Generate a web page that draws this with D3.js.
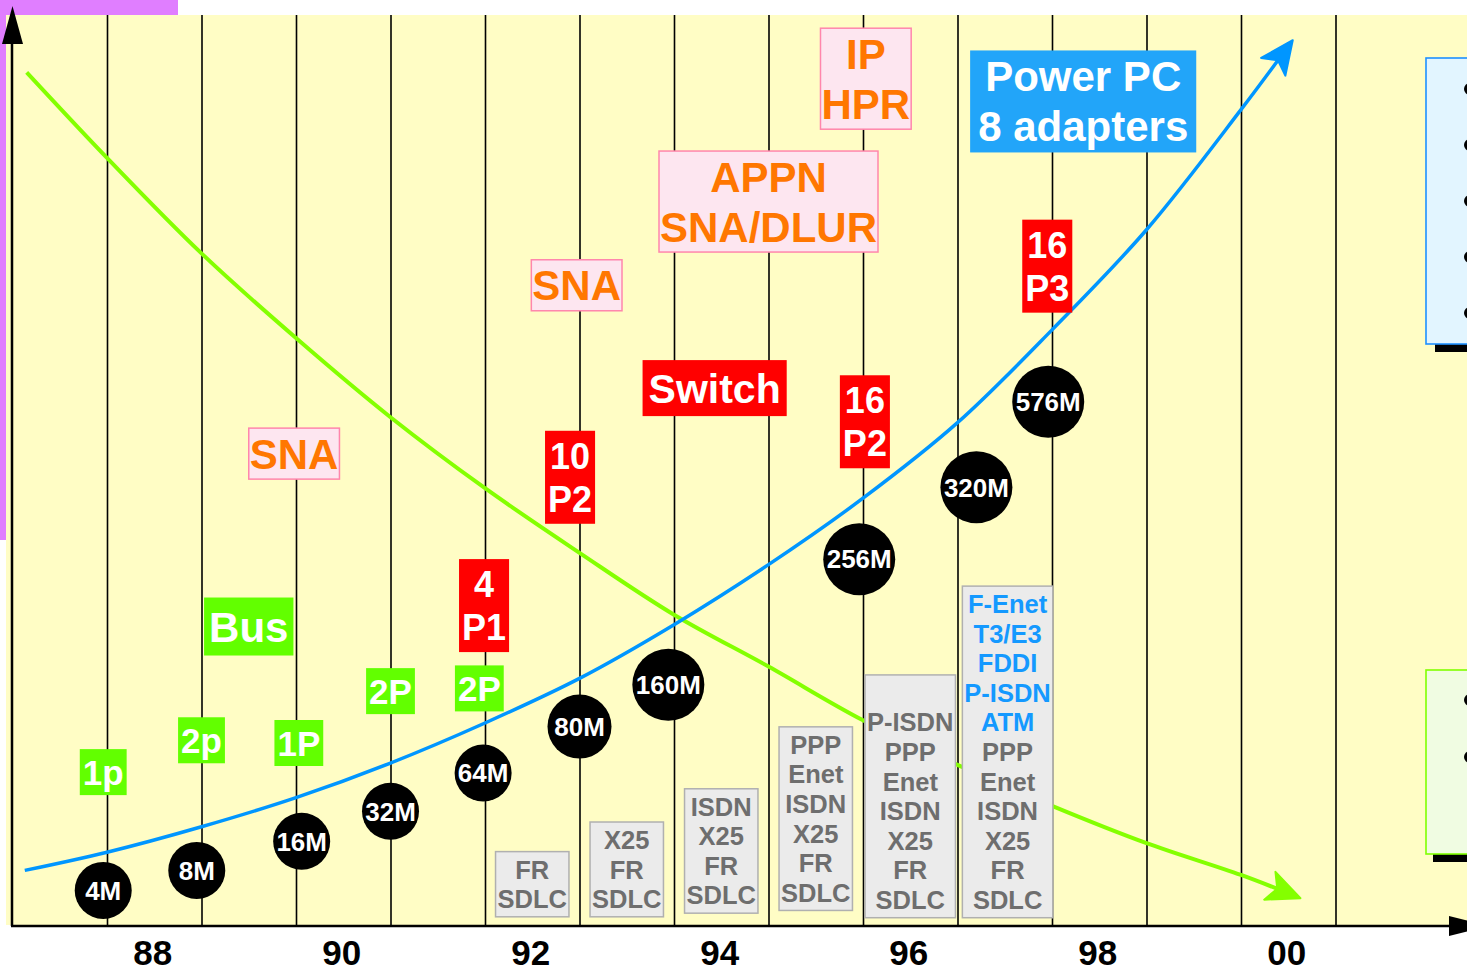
<!DOCTYPE html>
<html lang="en">
<head>
<meta charset="utf-8" />
<title>Memory, adapters and protocols 88-00</title>
<script src="https://d3js.org/d3.v7.min.js"></script>
<style>
  body { margin: 0; background: #fff; }
  svg text { font-family: "Liberation Sans", Arial, sans-serif; font-weight: bold; }
</style>
</head>
<body>
<script>
// ---------- data ----------
// year labels on the bottom axis, and the half-year grid lines
var yearTicks = [88, 90, 92, 94, 96, 98, 100];
var gridYears = [87.5, 88.5, 89.5, 90.5, 91.5, 92.5, 93.5, 94.5, 95.5, 96.5, 97.5, 98.5, 99.5, 100.5];

// memory (black circles)
var memLabels = ["4M", "8M", "16M", "32M", "64M", "80M", "160M", "256M", "320M", "576M"];
var memMB     = [4, 8, 16, 32, 64, 80, 160, 256, 320, 576];
var memYears  = [87.46, 88.45, 89.56, 90.5, 91.48, 92.5, 93.44, 95.46, 96.7, 97.46];
var memLevels = [3.8, 6.0, 9.2, 12.5, 16.7, 21.8, 26.4, 40.2, 48.1, 57.5];

// rising curve (blue) and falling curve (green)
var riseYears  = [86.63, 87.5, 88.5, 89.5, 90.5, 91.5, 92.5, 93.5, 94.5, 95.5, 96.5, 97.5, 98.5, 99.5, 100.01];
var riseLevels = [6.0, 8.0, 10.8, 14.0, 17.8, 22.2, 27.1, 33.0, 39.6, 46.9, 55.2, 65.4, 76.4, 89.6, 96.7];
var fallYears  = [86.65, 87.5, 88.5, 89.5, 90.5, 91.5, 92.5, 93.5, 94.5, 95.5, 96.5, 97.5, 98.5, 99.5, 100.07];
var fallLevels = [93.7, 84.3, 73.8, 64.5, 55.8, 48.0, 40.9, 34.1, 28.4, 22.5, 17.6, 13.1, 9.0, 5.5, 3.2];

// slots (green)
var slotLabels = [["1p"], ["2p"], ["1P"], ["2P"], ["2P"], ["Bus"]];
var slotYears  = [87.46, 88.5, 89.53, 90.5, 91.44, 89.0];
var slotLevels = [16.8, 20.3, 20.0, 25.7, 26.0, 32.8];

// processors (red)
var cpuLabels = [["4", "P1"], ["10", "P2"], ["Switch"], ["16", "P2"], ["16", "P3"]];
var cpuYears  = [91.49, 92.4, 93.93, 95.52, 97.45];
var cpuLevels = [35.1, 49.2, 59.0, 55.3, 72.4];

// architecture (pink)
var archLabels = [["SNA"], ["SNA"], ["APPN", "SNA/DLUR"], ["IP", "HPR"]];
var archYears  = [89.48, 92.47, 94.5, 95.53];
var archLevels = [51.8, 70.3, 79.5, 93.0];

// power pc (blue)
var ppcLabels = [["Power PC", "8 adapters"]];
var ppcYears  = [97.83];
var ppcLevels = [90.5];

// link protocols (grey), the first linkNew lines are shown in blue
var linkYears = [92, 93, 94, 95, 96, 97.03];
var linkBase  = [0.9, 0.9, 1.3, 1.6, 0.8, 0.8];
var linkNew   = [0, 0, 0, 0, 0, 5];
var linkLines = [
  ["FR", "SDLC"],
  ["X25", "FR", "SDLC"],
  ["ISDN", "X25", "FR", "SDLC"],
  ["PPP", "Enet", "ISDN", "X25", "FR", "SDLC"],
  ["", "P-ISDN", "PPP", "Enet", "ISDN", "X25", "FR", "SDLC"],
  ["F-Enet", "T3/E3", "FDDI", "P-ISDN", "ATM", "PPP", "Enet", "ISDN", "X25", "FR", "SDLC"]
];

// ---------- drawing ----------
var width = 1467, height = 972;
var svg = d3.select("body").append("svg")
    .attr("width", width)
    .attr("height", height);

var x = d3.scaleLinear().domain([87.5, 100.5]).range([107, 1335.5]);
var y = d3.scaleLinear().domain([0, 100]).range([925, 15]);
var rScale = d3.scaleThreshold().domain([80, 160]).range([28.5, 32, 36]);

// background
svg.append("rect").attr("x", 0).attr("y", 0).attr("width", 178).attr("height", 15).attr("fill", "#e07eff");
svg.append("rect").attr("x", 0).attr("y", 0).attr("width", 6).attr("height", 540).attr("fill", "#e07eff");
svg.append("rect").attr("x", 6).attr("y", y(100)).attr("width", width - 6).attr("height", y(0) - y(100))
    .attr("fill", "#fffdc5");

// grid lines
var grid = svg.append("g")
    .attr("transform", "translate(0," + y(0) + ")")
    .call(d3.axisBottom(x).tickValues(gridYears).tickSize(-(y(0) - y(100))).tickFormat(""));
grid.select(".domain").remove();
grid.selectAll("line").attr("stroke", "#000").attr("stroke-width", 1.6);

// right-hand panels (cut off at the edge)
function panel(top, bottom, stroke, fill, shadowX, bullets) {
  svg.append("rect").attr("x", shadowX).attr("y", bottom).attr("width", 60).attr("height", 8).attr("fill", "#000");
  svg.append("rect").attr("x", 1426).attr("y", top).attr("width", 60).attr("height", bottom - top)
      .attr("fill", fill).attr("stroke", stroke).attr("stroke-width", 1.6);
  bullets.forEach(function (b) {
    svg.append("circle").attr("cx", 1470).attr("cy", b).attr("r", 6).attr("fill", "#000");
  });
}
panel(58, 344, "#1e90ff", "#e2f5ff", 1435, [89, 145, 201, 257, 313]);
panel(670, 854, "#80ff00", "#f0fce2", 1433, [700, 757]);

// curves
var defs = svg.append("defs");
function arrow(id, color) {
  defs.append("marker")
      .attr("id", id)
      .attr("markerUnits", "userSpaceOnUse")
      .attr("viewBox", "-34 -20 44 40")
      .attr("markerWidth", 44).attr("markerHeight", 40)
      .attr("refX", 0).attr("refY", 0)
      .attr("orient", "auto")
      .append("path")
      .attr("d", "M6,0 L-27,-15 L-19,0 L-27,15 Z")
      .attr("fill", color).attr("stroke", color).attr("stroke-width", 2).attr("stroke-linejoin", "round");
}
arrow("arrowBlue", "#0096ff");
arrow("arrowGreen", "#84ff00");

var line = d3.line()
    .x(function (d) { return x(d[0]); })
    .y(function (d) { return y(d[1]); })
    .curve(d3.curveCatmullRom.alpha(0.5));

svg.append("path").datum(d3.zip(fallYears, fallLevels))
    .attr("d", line).attr("fill", "none").attr("stroke", "#84ff00").attr("stroke-width", 4)
    .attr("marker-end", "url(#arrowGreen)");
svg.append("path").datum(d3.zip(riseYears, riseLevels))
    .attr("d", line).attr("fill", "none").attr("stroke", "#0096ff").attr("stroke-width", 3.5)
    .attr("marker-end", "url(#arrowBlue)");

// labelled boxes
var styles = {
  slot:   { fs: 35, lh: 40, px: 3, py: 3, fill: "#62ff00", stroke: "none", text: "#fff" },
  bus:    { fs: 42, lh: 50, px: 5, py: 4, fill: "#62ff00", stroke: "none", text: "#fff" },
  cpu:    { fs: 36, lh: 43, px: 3, py: 3.5, fill: "#ff0000", stroke: "none", text: "#fff" },
  cpuWide:{ fs: 41, lh: 50, px: 6, py: 3, fill: "#ff0000", stroke: "none", text: "#fff" },
  arch:   { fs: 42, lh: 50, px: 1, py: 0.5, fill: "#fde6f0", stroke: "#ff86ac", text: "#ff7700" },
  ppc:    { fs: 42, lh: 50, px: 8, py: 1, fill: "#22a5f9", stroke: "none", text: "#fff" }
};

function boxes(labels, years, levels, pickStyle) {
  labels.forEach(function (lines, i) {
    var st = pickStyle(lines);
    var g = svg.append("g").attr("transform", "translate(" + x(years[i]) + "," + y(levels[i]) + ")");
    var rect = g.append("rect");
    var w = 0;
    lines.forEach(function (t, j) {
      var cy = (j - (lines.length - 1) / 2) * st.lh;
      var tx = g.append("text")
          .attr("x", 0).attr("y", cy + 0.358 * st.fs)
          .attr("text-anchor", "middle")
          .attr("font-size", st.fs)
          .attr("fill", st.text)
          .text(t);
      w = Math.max(w, tx.node().getComputedTextLength());
    });
    var bw = w + 2 * st.px, bh = lines.length * st.lh + 2 * st.py;
    rect.attr("x", -bw / 2).attr("y", -bh / 2).attr("width", bw).attr("height", bh)
        .attr("fill", st.fill).attr("stroke", st.stroke).attr("stroke-width", 1.5);
  });
}

boxes(slotLabels, slotYears, slotLevels, function (l) { return l[0] === "Bus" ? styles.bus : styles.slot; });
boxes(cpuLabels, cpuYears, cpuLevels, function (l) { return l.length === 1 ? styles.cpuWide : styles.cpu; });
boxes(archLabels, archYears, archLevels, function () { return styles.arch; });
boxes(ppcLabels, ppcYears, ppcLevels, function () { return styles.ppc; });

// grey protocol stacks, bottom aligned
var gfs = 25.5, glh = 29.6, gpx = 2, gpy = 3;
linkLines.forEach(function (lines, i) {
  var bottom = y(linkBase[i]);
  var bh = lines.length * glh + 2 * gpy;
  var g = svg.append("g").attr("transform", "translate(" + x(linkYears[i]) + "," + (bottom - bh) + ")");
  var rect = g.append("rect");
  var w = 0;
  lines.forEach(function (t, j) {
    var tx = g.append("text")
        .attr("x", 0).attr("y", gpy + (j + 0.5) * glh + 0.358 * gfs)
        .attr("text-anchor", "middle")
        .attr("font-size", gfs)
        .attr("fill", j < linkNew[i] ? "#1499ff" : "#6e6e6e")
        .text(t);
    w = Math.max(w, tx.node().getComputedTextLength());
  });
  var bw = w + 2 * gpx;
  rect.attr("x", -bw / 2).attr("y", 0).attr("width", bw).attr("height", bh)
      .attr("fill", "#ebebeb").attr("stroke", "#b0b0b0").attr("stroke-width", 1.5);
});

// memory circles
var mem = svg.append("g").selectAll("g")
    .data(d3.range(memLabels.length))
    .enter().append("g")
    .attr("transform", function (i) { return "translate(" + x(memYears[i]) + "," + y(memLevels[i]) + ")"; });
mem.append("circle").attr("r", function (i) { return rScale(memMB[i]); }).attr("fill", "#000");
mem.append("text")
    .attr("text-anchor", "middle")
    .attr("y", 0.358 * 26)
    .attr("font-size", 26)
    .attr("fill", "#fff")
    .text(function (i) { return memLabels[i]; });

// axes
svg.append("line").attr("x1", 12).attr("x2", 12).attr("y1", 40).attr("y2", 926)
    .attr("stroke", "#000").attr("stroke-width", 2.5);
svg.append("path").attr("d", "M12.5,6 L23,44 L2,44 Z").attr("fill", "#000");
svg.append("line").attr("x1", 11).attr("x2", 1455).attr("y1", 926).attr("y2", 926)
    .attr("stroke", "#000").attr("stroke-width", 2.5);
svg.append("path").attr("d", "M1490,926 L1449,916 L1449,936 Z").attr("fill", "#000");

var xAxis = svg.append("g")
    .attr("transform", "translate(-2,926)")
    .call(d3.axisBottom(x).tickValues(yearTicks).tickSize(0).tickPadding(14)
      .tickFormat(function (d) { return d3.format("02d")(d % 100); }));
xAxis.select(".domain").remove();
xAxis.selectAll("text")
    .attr("font-size", 35)
    .attr("fill", "#000")
    .style("font-family", "'Liberation Sans', Arial, sans-serif")
    .style("font-weight", "bold");
</script>
</body>
</html>
